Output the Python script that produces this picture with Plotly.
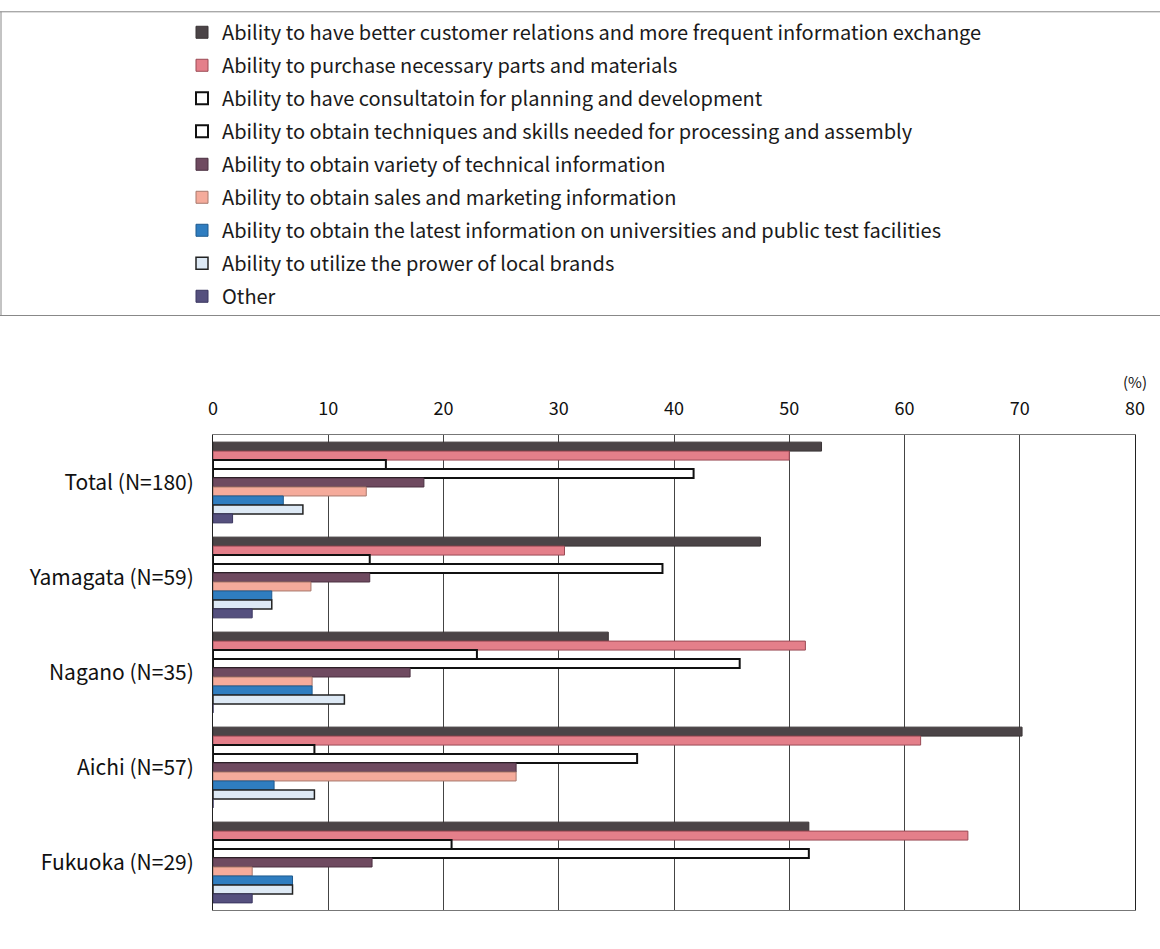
import plotly.graph_objects as go

# Survey regions (rows of the chart, top to bottom)
regions = ["Total (N=180)", "Yamagata (N=59)", "Nagano (N=35)", "Aichi (N=57)", "Fukuoka (N=29)"]

# Share of respondents (%) per benefit, one list per series, in region order
customer_relations = [52.8, 47.5, 34.3, 70.2, 51.7]
purchase_parts = [50.0, 30.5, 51.4, 61.4, 65.5]
consultation_planning = [15.0, 13.6, 22.9, 8.8, 20.7]
processing_skills = [41.7, 39.0, 45.7, 36.8, 51.7]
technical_info = [18.3, 13.6, 17.1, 26.3, 13.8]
sales_marketing = [13.3, 8.5, 8.6, 26.3, 3.4]
university_info = [6.1, 5.1, 8.6, 5.3, 6.9]
local_brands = [7.8, 5.1, 11.4, 8.8, 6.9]
other = [1.7, 3.4, 0.0, 0.0, 3.4]

series_names = [
    "Ability to have better customer relations and more frequent information exchange",
    "Ability to purchase necessary parts and materials",
    "Ability to have consultatoin for planning and development",
    "Ability to obtain techniques and skills needed for processing and assembly",
    "Ability to obtain variety of technical information",
    "Ability to obtain sales and marketing information",
    "Ability to obtain the latest information on universities and public test facilities",
    "Ability to utilize the prower of local brands",
    "Other",
]
series_values = [customer_relations, purchase_parts, consultation_planning, processing_skills,
                 technical_info, sales_marketing, university_info, local_brands, other]

fills = ["#4b4447", "#e47f8a", "#ffffff", "#ffffff", "#6f4a60", "#f5ab9b", "#2f7dc0", "#dde9f5", "#55507e"]
edges = ["#3a3436", "#9a4b55", "#111111", "#111111", "#4a3040", "#a8786c", "#1f5a8e", "#222222", "#3a3660"]
edge_w = [1, 1, 2, 2, 1, 1, 1, 1.5, 1]

FONT = "Noto Sans CJK JP"

# plot-area geometry in pixels, used to place the legend frame in paper units
L, R, T, B = 213, 1135, 433, 910
PW, PH = R - L, B - T


def px_x(x):
    return (x - L) / PW


def px_y(y):
    return (B - y) / PH


fig = go.Figure()
for name, vals, fc, ec, ew in zip(series_names, series_values, fills, edges, edge_w):
    fig.add_trace(go.Bar(
        y=regions, x=vals, name=name, orientation="h",
        legendgroup=name,
        marker=dict(color=fc, line=dict(color=ec, width=ew)),
    ))

fig.update_layout(
    width=1160, height=949,
    margin=dict(l=L, r=1160 - R, t=T, b=949 - B),
    paper_bgcolor="white", plot_bgcolor="white",
    barmode="group", bargap=0.15, bargroupgap=0.0,
    font=dict(family=FONT, size=15, color="#111111"),
    showlegend=True,
    legend=dict(
        x=px_x(182), xanchor="left", y=px_y(9), yanchor="top",
        traceorder="grouped", tracegroupgap=4,
        font=dict(family=FONT, size=20, color="#1a1a1a"),
        bgcolor="rgba(0,0,0,0)", itemwidth=30,
    ),
    xaxis=dict(
        side="top", range=[0, 80], dtick=10, tick0=0,
        showgrid=True, gridcolor="#444444", gridwidth=1,
        showline=True, linecolor="#777777", linewidth=1, mirror=True,
        zeroline=False, ticks="", ticklabelstandoff=12,
        tickfont=dict(family=FONT, size=18, color="#111111"),
    ),
    yaxis=dict(
        autorange="reversed", showline=True, linecolor="#222222", linewidth=1, mirror=True,
        ticks="", ticklabelstandoff=14,
        tickfont=dict(family=FONT, size=21, color="#111111"),
    ),
    shapes=[
        # frame lines around the legend block
        dict(type="line", xref="paper", yref="paper",
             x0=px_x(0), x1=px_x(1160), y0=px_y(8), y1=px_y(8),
             line=dict(color="#888888", width=1)),
        dict(type="line", xref="paper", yref="paper",
             x0=px_x(0), x1=px_x(1160), y0=px_y(313), y1=px_y(313),
             line=dict(color="#888888", width=1)),
        dict(type="line", xref="paper", yref="paper",
             x0=px_x(1), x1=px_x(1), y0=px_y(313), y1=px_y(8),
             line=dict(color="#888888", width=1)),
    ],
    annotations=[
        dict(text="(%)", xref="paper", yref="paper", x=1.0, y=px_y(379),
             xanchor="center", yanchor="middle", showarrow=False,
             font=dict(family=FONT, size=15, color="#111111")),
    ],
)

fig.write_html("out.html")
